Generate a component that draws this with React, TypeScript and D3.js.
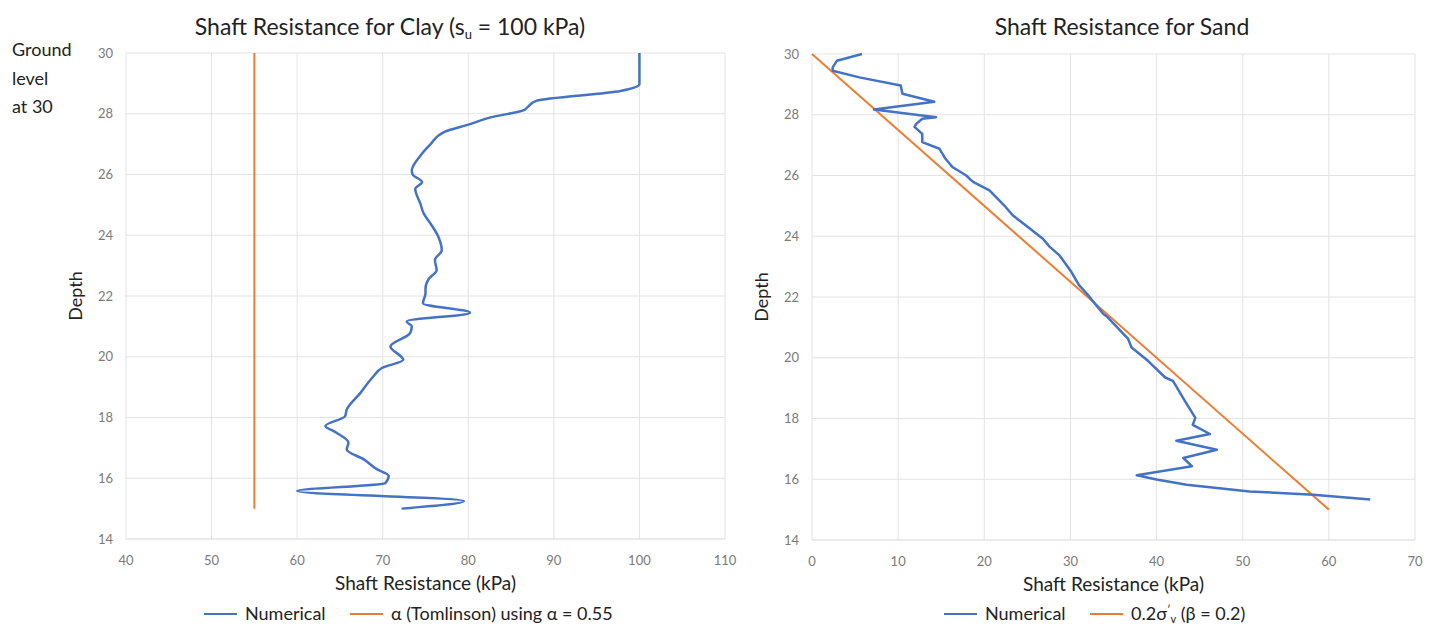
import * as d3 from 'd3';

// depth ticks shared by both panels
const depthTicks = [14, 16, 18, 20, 22, 24, 26, 28, 30];
const clayTicks = [40, 50, 60, 70, 80, 90, 100, 110];
const sandTicks = [0, 10, 20, 30, 40, 50, 60, 70];

// clay, numerical (depth, kPa)
const clayDepth = [30, 28.97, 28.75, 28.43, 28.21, 28.12, 27.88, 27.66, 27.39, 27.0, 26.62, 26.13, 26.0, 25.75, 25.53, 25.04, 24.71, 24.38, 23.95, 23.51, 23.18, 22.85, 22.57, 22.25, 22.09, 21.76, 21.45, 21.16, 21.0, 20.78, 20.34, 19.9, 19.63, 19.35, 18.81, 18.26, 18.04, 17.72, 17.5, 17.17, 16.95, 16.62, 16.3, 16.08, 15.84, 15.58, 15.25, 15.0];
const clayNumerical = [100, 100, 97.8, 88.0, 86.9, 86.5, 82.6, 80.2, 77.1, 75.6, 74.4, 73.4, 73.5, 74.6, 73.8, 74.4, 74.8, 75.6, 76.5, 76.9, 76.1, 76.3, 75.4, 75.0, 75.0, 74.7, 80.2, 72.8, 73.4, 73.2, 70.9, 72.4, 69.9, 68.9, 67.4, 65.8, 65.6, 63.3, 64.6, 66.0, 65.8, 67.8, 69.3, 70.7, 70.3, 60.0, 79.5, 72.2];
// alpha (Tomlinson), alpha = 0.55
const clayAlphaDepth = [30, 15];
const clayAlphaValue = [55, 55];

// sand, numerical
const sandDepth = [30, 29.78, 29.56, 29.45, 29.23, 28.96, 28.69, 28.43, 28.17, 27.92, 27.87, 27.7, 27.6, 27.37, 27.1, 26.88, 26.55, 26.28, 26.0, 25.79, 25.51, 25.02, 24.69, 24.36, 23.92, 23.65, 23.38, 22.83, 22.39, 22.11, 21.45, 21.34, 20.62, 20.34, 19.9, 19.35, 19.24, 18.57, 18.02, 17.79, 17.49, 17.27, 16.97, 16.7, 16.43, 16.13, 15.99, 15.82, 15.6, 15.49, 15.33];
const sandNumerical = [5.8, 2.9, 2.4, 2.4, 5.5, 10.3, 10.5, 14.2, 7.2, 14.4, 12.8, 12.1, 11.9, 12.8, 12.8, 14.8, 15.5, 16.3, 17.9, 18.7, 20.6, 22.3, 23.3, 24.8, 26.8, 27.6, 28.7, 30.1, 31.0, 31.9, 33.8, 34.3, 36.7, 37.1, 39.0, 41.0, 41.9, 43.3, 44.5, 44.2, 46.2, 42.3, 47.0, 43.1, 44.1, 37.7, 40.0, 43.5, 50.8, 58.2, 64.8];
// 0.2 sigma'v (beta = 0.2)
const sandBetaDepth = [30, 15];
const sandBetaValue = [0, 60];

const BLUE = '#4472C4';
const ORANGE = '#ED7D31';
const FONT = 'Lato, "Open Sans", sans-serif';

type PanelProps = {
  left: number;
  right: number;
  top: number;
  bottom: number;
  xDomain: [number, number];
  xTicks: number[];
  depthA: number[];
  valA: number[];
  depthB: number[];
  valB: number[];
  smooth: boolean;
};

function Panel(p: PanelProps) {
  const x = d3.scaleLinear().domain(p.xDomain).range([p.left, p.right]);
  const y = d3.scaleLinear().domain([14, 30]).range([p.bottom, p.top]);

  const numLine = d3.line<number>()
    .x((d, i) => x(p.valA[i]))
    .y((d) => y(d))
    .curve(p.smooth ? d3.curveMonotoneY : d3.curveLinear);
  const refLine = d3.line<number>()
    .x((d, i) => x(p.valB[i]))
    .y((d) => y(d));

  return (
    <g>
      {p.xTicks.map(t => (
        <line key={'vx' + t} x1={x(t)} x2={x(t)} y1={p.top} y2={p.bottom} stroke="#e3e3e3" strokeWidth={1} />
      ))}
      {depthTicks.map(t => (
        <line key={'hy' + t} x1={p.left} x2={p.right} y1={y(t)} y2={y(t)} stroke={t === 14 ? '#d6d6d6' : '#e3e3e3'} strokeWidth={1} />
      ))}
      {depthTicks.map(t => (
        <text key={'ty' + t} x={p.left - 13} y={y(t)} dy="0.35em" textAnchor="end" fontSize={13} fill="#7a7a7a" fontFamily={FONT}>{t}</text>
      ))}
      {p.xTicks.map(t => (
        <text key={'tx' + t} x={x(t)} y={p.bottom + 21} dy="0.35em" textAnchor="middle" fontSize={13} fill="#7a7a7a" fontFamily={FONT}>{t}</text>
      ))}
      <path d={refLine(p.depthB) || ''} fill="none" stroke={ORANGE} strokeWidth={2} />
      <path d={numLine(p.depthA) || ''} fill="none" stroke={BLUE} strokeWidth={2.5} strokeLinejoin="round" />
      <text x={(p.left + p.right) / 2} y={p.bottom + 44} dy="0.35em" textAnchor="middle" fontSize={19} fill="#222" fontFamily={FONT}>Shaft Resistance (kPa)</text>
      <text transform={`translate(${p.left - 50},${(p.top + p.bottom) / 2}) rotate(-90)`} textAnchor="middle" dy="0.35em" fontSize={18} fill="#222" fontFamily={FONT}>Depth</text>
    </g>
  );
}

function LegendItem({ x, y, color, children }: { x: number; y: number; color: string; children: any }) {
  return (
    <g>
      <line x1={x} x2={x + 33} y1={y} y2={y} stroke={color} strokeWidth={2} />
      <text x={x + 41} y={y} dy="0.35em" fontSize={18} fill="#222" fontFamily={FONT}>{children}</text>
    </g>
  );
}

export default function App() {
  return (
    <svg width={1434} height={627} style={{ position: 'fixed', left: 0, top: 0, background: '#fff' }}>
      <rect width={1434} height={627} fill="#fff" />
      <text x={390} y={27} dy="0.35em" textAnchor="middle" fontSize={23} fill="#222" fontFamily={FONT}>
        Shaft Resistance for Clay (s<tspan fontSize={13} baselineShift="-30%">u</tspan> = 100 kPa)
      </text>
      <text x={1122} y={27} dy="0.35em" textAnchor="middle" fontSize={23} fill="#222" fontFamily={FONT}>Shaft Resistance for Sand</text>

      <text x={12} fontSize={18} fill="#222" fontFamily={FONT}>
        <tspan x={12} y={56}>Ground</tspan>
        <tspan x={12} y={85}>level</tspan>
        <tspan x={12} y={113}>at 30</tspan>
      </text>

      <Panel left={126} right={725} top={53} bottom={539} xDomain={[40, 110]} xTicks={clayTicks}
        depthA={clayDepth} valA={clayNumerical} depthB={clayAlphaDepth} valB={clayAlphaValue} smooth={true} />
      <Panel left={812} right={1415} top={54} bottom={540} xDomain={[0, 70]} xTicks={sandTicks}
        depthA={sandDepth} valA={sandNumerical} depthB={sandBetaDepth} valB={sandBetaValue} smooth={false} />

      <LegendItem x={204} y={614} color={BLUE}>Numerical</LegendItem>
      <LegendItem x={350} y={614} color={ORANGE}>α (Tomlinson) using α = 0.55</LegendItem>

      <LegendItem x={944} y={614} color={BLUE}>Numerical</LegendItem>
      <LegendItem x={1090} y={614} color={ORANGE}>
        0.2σ<tspan fontSize={11} baselineShift="55%">′</tspan><tspan fontSize={11} baselineShift="-25%">v</tspan> (β = 0.2)
      </LegendItem>
    </svg>
  );
}
